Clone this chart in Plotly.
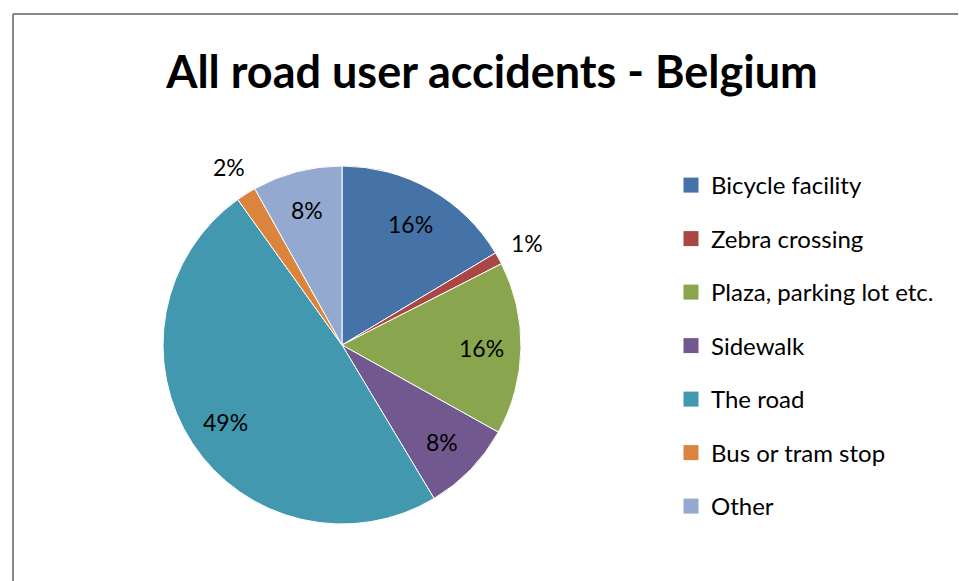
"""All road user accidents - Belgium (pie)"""

import math

import plotly.graph_objects as go

categories = [
    "Bicycle facility",
    "Zebra crossing",
    "Plaza, parking lot etc.",
    "Sidewalk",
    "The road",
    "Bus or tram stop",
    "Other",
]
shares = [16.4, 1.1, 15.6, 8.3, 48.7, 1.8, 8.1]
colors = ["#4572A7", "#AA4643", "#89A54E", "#71588F", "#4198AF", "#DB843D", "#93A9CF"]
label_outside = [False, True, False, False, False, True, False]

W, H = 959, 581
FONT = "Lato"
CX, CY, R = 342, 345, 179  # pie centre / radius in px

fig = go.Figure()
fig.add_trace(
    go.Pie(
        labels=categories,
        values=shares,
        sort=False,
        direction="clockwise",
        rotation=0,
        marker=dict(colors=colors, line=dict(color="white", width=1)),
        textinfo="none",
        showlegend=False,
        domain=dict(x=[(CX - R) / W, (CX + R) / W], y=[1 - (CY + R) / H, 1 - (CY - R) / H]),
        hoverinfo="label+percent",
    )
)

# percentage labels, placed along each slice's mid angle (like Excel's best fit)
total = sum(shares)
annotations = []
cum = 0.0
for v, outside in zip(shares, label_outside):
    mid = (cum + v / 2) / total * 2 * math.pi
    cum += v
    k = 1.18 if outside else 0.78
    px_ = CX + k * R * math.sin(mid)
    py_ = CY - k * R * math.cos(mid)
    annotations.append(dict(
        x=px_ / W, y=1 - py_ / H, xref="paper", yref="paper",
        xanchor="center", yanchor="middle",
        text=f"{round(v / total * 100)}%", showarrow=False,
        font=dict(family=FONT, size=23, color="black"),
    ))

# legend entries (one group each so the gap can be set)
for name, c in zip(categories, colors):
    fig.add_trace(
        go.Scatter(
            x=[None], y=[None], mode="markers", name=name, legendgroup=name,
            marker=dict(symbol="square", size=15, color=c),
        )
    )

fig.update_layout(
    width=W,
    height=H,
    margin=dict(l=0, r=0, t=0, b=0),
    paper_bgcolor="white",
    plot_bgcolor="white",
    font=dict(family=FONT, color="black"),
    title=dict(
        text="<b>All road user accidents - Belgium</b>",
        x=492 / W, xanchor="center", y=1 - 72 / H, yanchor="middle",
        font=dict(family=FONT, size=45, color="black"),
    ),
    xaxis=dict(visible=False),
    yaxis=dict(visible=False),
    legend=dict(
        x=671 / W, xanchor="left", y=1 - 163 / H, yanchor="top",
        font=dict(family=FONT, size=24, color="black"),
        tracegroupgap=19.3, itemwidth=30, bgcolor="rgba(0,0,0,0)",
    ),
    annotations=annotations,
    shapes=[
        dict(type="line", xref="paper", yref="paper", x0=13 / W, x1=958 / W,
             y0=1 - 14 / H, y1=1 - 14 / H, line=dict(color="#888888", width=2)),
        dict(type="line", xref="paper", yref="paper", x0=13 / W, x1=13 / W,
             y0=1 - 14 / H, y1=0, line=dict(color="#888888", width=2)),
    ],
)

fig.write_html(
    "out.html",
    config={"displayModeBar": False},
    post_script="document.body.style.margin='0';",
)
